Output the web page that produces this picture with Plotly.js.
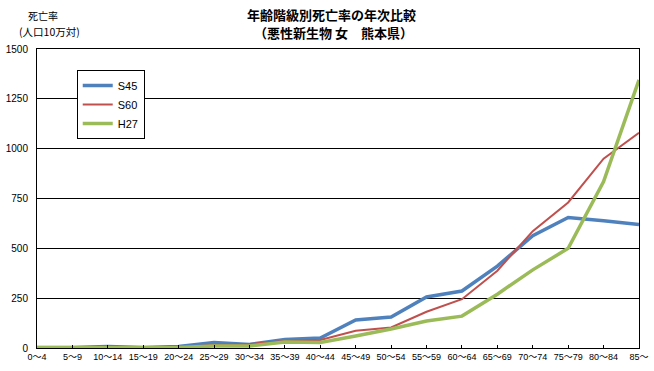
<!DOCTYPE html>
<html><head><meta charset="utf-8">
<script src="https://cdn.plot.ly/plotly-3.0.1.min.js"></script>
<style>html,body{margin:0;padding:0;background:#fff}#c{width:654px;height:371px}</style>
</head><body><div id="c"></div>
<script>
const categories = ["0～4","5～9","10～14","15～19","20～24","25～29","30～34","35～39","40～44","45～49","50～54","55～59","60～64","65～69","70～74","75～79","80～84","85～"];
const s45 = [3,3,8,3,7,28,18,43,50,141,155,256,286,411,563,655,638,620];
const s60 = [4,2,3,2,4,15,20,35,40,86,103,182,245,388,586,730,950,1080];
const h27 = [1,1,3,2,3,10,10,30,28,60,95,135,160,270,392,500,835,1345];
const yTicks = [0,250,500,750,1000,1250,1500];

const F = "Liberation Sans, Arial, Noto Sans CJK JP, sans-serif";
const traces = [
  {x: categories, y: s45, name: "S45", mode: "lines", line: {color: "#4F81BD", width: 3.5}},
  {x: categories, y: s60, name: "S60", mode: "lines", line: {color: "#C0504D", width: 2}},
  {x: categories, y: h27, name: "H27", mode: "lines", line: {color: "#9BBB59", width: 3.5}}
];
const layout = {
  width: 654, height: 371,
  margin: {l: 37, r: 15, t: 49, b: 23},
  paper_bgcolor: "#fff", plot_bgcolor: "#fff",
  font: {family: F, size: 10, color: "#000"},
  showlegend: true,
  legend: {x: 0.066, y: 0.93, xanchor: "left", yanchor: "top",
    bgcolor: "#fff", bordercolor: "#000", borderwidth: 1,
    font: {family: F, size: 11, color: "#000"}, tracegroupgap: 0, itemwidth: 30},
  xaxis: {type: "category", range: [0, 17], tickmode: "array", tickvals: categories, ticktext: categories,
    showgrid: false, showline: true, linecolor: "#000", linewidth: 1, mirror: true,
    ticks: "inside", ticklen: 3, tickcolor: "#000", tickangle: 0,
    tickfont: {family: F, size: 9, color: "#000"}, zeroline: false, fixedrange: true},
  yaxis: {range: [0, 1500], tickvals: yTicks, ticktext: yTicks.map(String),
    showgrid: true, gridcolor: "#000", gridwidth: 1,
    showline: true, linecolor: "#000", linewidth: 1, mirror: true,
    ticks: "", ticklabelstandoff: 6,
    tickfont: {family: F, size: 10, color: "#000"}, zeroline: false},
  annotations: [
    {text: "<b>年齢階級別死亡率の年次比較</b>", xref: "paper", yref: "paper", x: (331-37)/602, y: 1, yshift: 35,
      xanchor: "center", yanchor: "middle", showarrow: false, font: {family: "Noto Sans CJK JP", size: 13, color: "#000"}},
    {text: "<b>（悪性新生物 女\u3000熊本県）</b>", xref: "paper", yref: "paper", x: (333-37)/602, y: 1, yshift: 17,
      xanchor: "center", yanchor: "middle", showarrow: false, font: {family: "Noto Sans CJK JP", size: 13, color: "#000"}},
    {text: "死亡率", xref: "paper", yref: "paper", x: (43-37)/602, y: 1, yshift: 34,
      xanchor: "center", yanchor: "middle", showarrow: false, font: {family: "Noto Sans CJK JP", size: 10, color: "#000"}},
    {text: "(人口10万対)", xref: "paper", yref: "paper", x: (49-37)/602, y: 1, yshift: 18,
      xanchor: "center", yanchor: "middle", showarrow: false, font: {family: "Noto Sans CJK JP", size: 10.5, color: "#000"}}
  ]
};
Plotly.newPlot("c", traces, layout, {displayModeBar: false, staticPlot: true});
</script></body></html>
